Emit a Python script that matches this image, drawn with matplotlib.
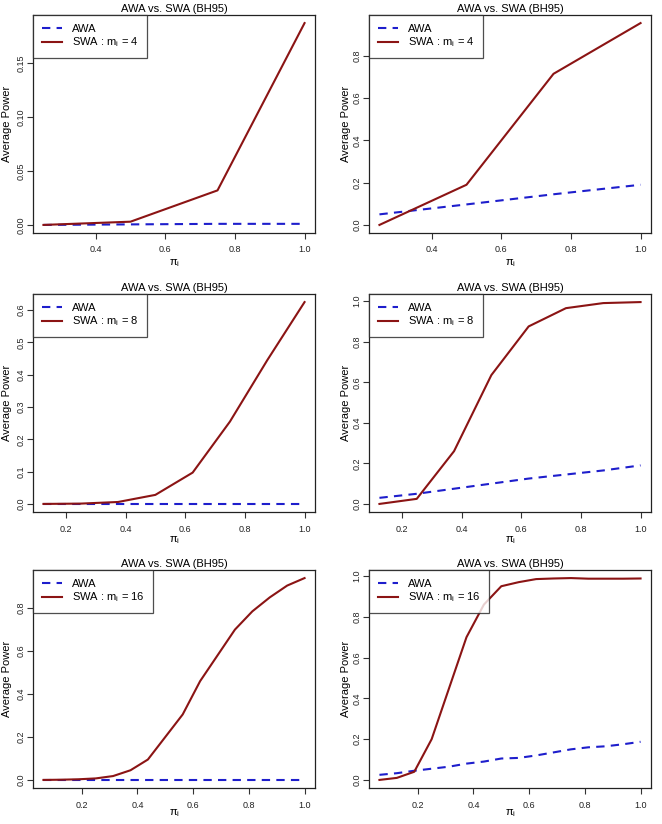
import matplotlib
matplotlib.use('Agg')
import matplotlib.pyplot as plt

plt.rcParams['font.family'] = ['Liberation Sans', 'DejaVu Sans']
plt.rcParams['mathtext.fontset'] = 'custom'
plt.rcParams['mathtext.rm'] = 'Liberation Sans'
plt.rcParams['mathtext.it'] = 'Liberation Sans'

# m = 4
x4 = [0.25, 0.5, 0.75, 1.0]
swa4_a = [0.0, 0.003, 0.032, 0.187]
awa4_a = [0.0, 0.0005, 0.001, 0.001]
swa4_b = [0.0, 0.19, 0.715, 0.955]
awa4_b = [0.05, 0.097, 0.145, 0.19]

# m = 8
x8 = [0.125, 0.25, 0.375, 0.5, 0.625, 0.75, 0.875, 1.0]
swa8_a = [0.0, 0.001, 0.006, 0.028, 0.097, 0.255, 0.445, 0.625]
awa8_a = [0.0, 0.0, 0.0, 0.0, 0.0, 0.0, 0.0, 0.0]
swa8_b = [0.0, 0.025, 0.26, 0.635, 0.875, 0.965, 0.99, 0.995]
awa8_b = [0.03, 0.05, 0.075, 0.1, 0.125, 0.145, 0.165, 0.19]

# m = 16
x16 = [0.0625, 0.125, 0.1875, 0.25, 0.3125, 0.375, 0.4375, 0.5,
       0.5625, 0.625, 0.6875, 0.75, 0.8125, 0.875, 0.9375, 1.0]
swa16_a = [0.0, 0.001, 0.003, 0.007, 0.018, 0.045, 0.095, 0.2,
           0.305, 0.46, 0.58, 0.7, 0.785, 0.85, 0.905, 0.94]
awa16_a = [0.0] * 16
swa16_b = [0.0, 0.01, 0.04, 0.2, 0.45, 0.7, 0.86, 0.95,
           0.97, 0.985, 0.988, 0.99, 0.987, 0.987, 0.987, 0.988]
awa16_b = [0.025, 0.033, 0.045, 0.055, 0.065, 0.08, 0.09, 0.105,
           0.108, 0.12, 0.135, 0.15, 0.16, 0.165, 0.175, 0.187]

panels = [
    (x4, awa4_a, swa4_a, 4, [0.00, 0.05, 0.10, 0.15], '%.2f'),
    (x4, awa4_b, swa4_b, 4, [0.0, 0.2, 0.4, 0.6, 0.8], '%.1f'),
    (x8, awa8_a, swa8_a, 8, [0.0, 0.1, 0.2, 0.3, 0.4, 0.5, 0.6], '%.1f'),
    (x8, awa8_b, swa8_b, 8, [0.0, 0.2, 0.4, 0.6, 0.8, 1.0], '%.1f'),
    (x16, awa16_a, swa16_a, 16, [0.0, 0.2, 0.4, 0.6, 0.8], '%.1f'),
    (x16, awa16_b, swa16_b, 16, [0.0, 0.2, 0.4, 0.6, 0.8, 1.0], '%.1f'),
]

W, H = 662, 824
fig = plt.figure(figsize=(W / 100, H / 100), dpi=100)

row_tops = [15, 294, 570]
col_lefts = [33, 369]
pw, ph = 282, 218
ylab_off = [26, 23]
xlab_off = [30, 28, 25]

blue = '#1E1ECC'
red = '#8B1414'

for k, (x, awa, swa, m, yt, fmt) in enumerate(panels):
    r, c = k // 2, k % 2
    left = col_lefts[c]
    top = row_tops[r]
    ax = fig.add_axes([left / W, 1 - (top + ph) / H, pw / W, ph / H])
    ax.plot(x, awa, color=blue, lw=1.5, ls=(0, (4, 3)), label='AWA')
    ax.plot(x, swa, color=red, lw=1.5, label=r'SWA : m$_\mathregular{i}$ = %d' % m)
    ymax = max(max(awa), max(swa))
    ymin = min(min(awa), min(swa))
    pad = (ymax - ymin) * 0.04
    ax.set_ylim(ymin - pad, ymax + pad)
    xpad = (x[-1] - x[0]) * 0.04
    ax.set_xlim(x[0] - xpad, x[-1] + xpad)
    xt = [0.2, 0.4, 0.6, 0.8, 1.0] if x[0] < 0.2 else [0.4, 0.6, 0.8, 1.0]
    ax.set_xticks(xt)
    ax.set_xticklabels(['%.1f' % v for v in xt])
    ax.set_yticks(yt)
    ax.set_yticklabels([fmt % v for v in yt], rotation=90, va='center')
    ax.tick_params(labelsize=6.5, length=4, width=0.8, color='#333333', labelcolor='#222222')
    ax.tick_params(axis='x', pad=5)
    ax.tick_params(axis='y', pad=1.5)
    for s in ax.spines.values():
        s.set_linewidth(0.9)
        s.set_color('#222222')
    ax.set_title('AWA vs. SWA (BH95)', fontsize=8, pad=2)
    ax.set_ylabel('Average Power', fontsize=8, va='center')
    ax.yaxis.set_label_coords(-ylab_off[c] / pw, 0.5)
    ax.set_xlabel(r'$\pi_\mathregular{i}$', fontsize=8, va='center')
    ax.xaxis.set_label_coords(0.5, -xlab_off[r] / ph)
    leg = ax.legend(loc='upper left', fontsize=8, frameon=True, fancybox=False,
                    borderaxespad=0, handlelength=1.8, borderpad=0.8,
                    labelspacing=0.15, handletextpad=0.9)
    leg.get_frame().set_edgecolor('#222222')
    leg.get_frame().set_linewidth(0.9)

fig.savefig('out.png', dpi=100)
